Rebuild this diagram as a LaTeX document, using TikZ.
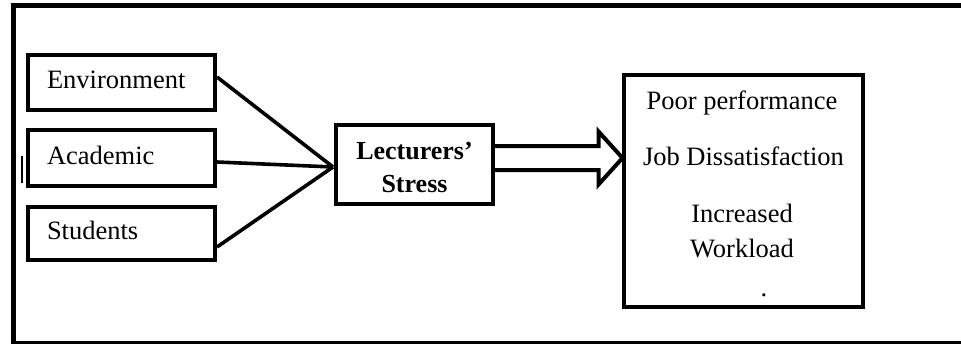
\documentclass[tikz,border=0pt]{standalone}
\usepackage{fontspec}
\setmainfont{Liberation Serif}
\usetikzlibrary{calc}
\begin{document}
\begin{tikzpicture}[x=1pt,y=-1pt,
  framepart/.style={draw=black},
  inbox/.style={draw, line width=4pt, text width=149pt, inner xsep=19pt,
    align=left, font=\fontsize{26.5}{32}\selectfont,
    text height=18.5pt, text depth=6.5pt},
  stressbox/.style={draw, line width=4pt, minimum width=157pt, minimum height=79pt,
    align=center, font=\fontsize{26}{33}\selectfont\bfseries},
  outbox/.style={draw, line width=4pt, minimum width=239pt, minimum height=232pt, inner sep=0pt},
  lbl/.style={anchor=base, inner sep=0pt, font=\fontsize{26.5}{32}\selectfont},
  feed/.style={draw, line width=3.6pt},
  blockarrow/.style={draw, line width=4pt, fill=white, line join=miter}
]
\useasboundingbox (0,0) rectangle (961,345);
% outer frame (right side lies outside the picture)
\draw[framepart, line width=5.5pt] (10.5,5.5) -- (961,5.5);
\draw[framepart, line width=5pt] (13,3) -- (13,344);
\draw[framepart, line width=2.5pt] (10.5,342.5) -- (961,342.5);
% stray mark
\draw[framepart, line width=2.5pt] (22,156) -- (22,183);

% cause boxes
\node[inbox, minimum height=55pt] (env) at (121.5,82.5) {Environment};
\node[inbox, minimum height=56pt] (acad) at (121.5,158) {Academic};
\node[inbox, minimum height=53pt] (stud) at (121.5,233.5) {Students};

% central box
\node[stressbox] (stress) at (414.5,164.5) {\rule{0pt}{24pt}Lecturers’\\Stress};

% effects box
\node[outbox] (eff) at (743,191) {};
\node[lbl] (poor) at (742,110) {Poor performance};
\node[lbl] (job) at (743.5,165) {Job Dissatisfaction};
\node[lbl] (incr) at (742,222) {Increased};
\node[lbl] (work) at (742,257) {Workload};
\node[lbl] (dot) at (764,296) {.};

% converging connectors
\coordinate (jn) at ($(stress.west)+(-1,2.5)$);
\draw[feed] ($(env.east)+(0,-5.5)$) -- (jn);
\draw[feed] ($(acad.east)+(0,4)$) -- (jn);
\draw[feed] ($(stud.east)+(0,13.5)$) -- (jn);

% block arrow
\coordinate (ah) at (stress.east |- 0,158);
\coordinate (at) at (eff.west |- 0,158);
\draw[blockarrow] ($(ah)+(0,-12)$) -- ($(at)+(-23,-12)$) -- ($(at)+(-23,-26.5)$)
  -- ($(at)+(1,0)$) -- ($(at)+(-23,26.5)$) -- ($(at)+(-23,12)$) -- ($(ah)+(0,12)$);
\end{tikzpicture}
\end{document}
